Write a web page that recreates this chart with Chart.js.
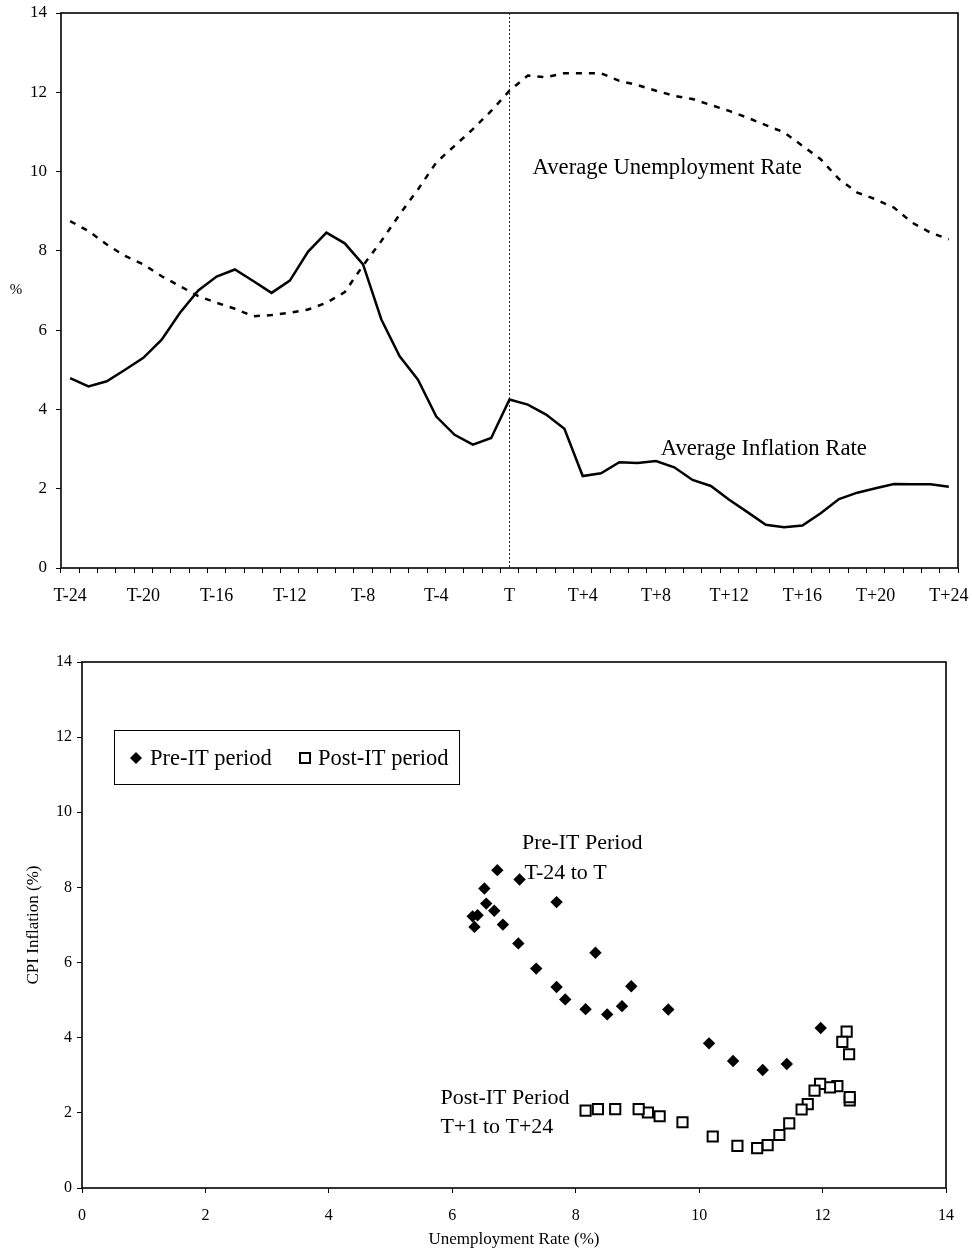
<!DOCTYPE html>
<html>
<head>
<meta charset="utf-8">
<title>Inflation and unemployment around the adoption of inflation targeting</title>
<script src="https://cdn.jsdelivr.net/npm/chart.js@4.4.1/dist/chart.umd.min.js"></script>
<style>
  html, body { margin: 0; padding: 0; background: #fff; }
  #wrap { position: relative; width: 972px; height: 1252px; }
  canvas { position: absolute; left: 0; display: block; }
  #timeChart { top: 0; width: 972px; height: 630px; }
  #scatterChart { top: 630px; width: 972px; height: 622px; }
</style>
</head>
<body>
<div id="wrap">
  <canvas id="timeChart" width="972" height="630"></canvas>
  <canvas id="scatterChart" width="972" height="622"></canvas>
</div>
<script>
'use strict';

// ---- Top panel: months around adoption (T) ----
const periods = [
	'T-24', 'T-23', 'T-22', 'T-21', 'T-20', 'T-19', 'T-18', 'T-17', 'T-16', 'T-15',
	'T-14', 'T-13', 'T-12', 'T-11', 'T-10', 'T-9', 'T-8', 'T-7', 'T-6', 'T-5',
	'T-4', 'T-3', 'T-2', 'T-1', 'T',
	'T+1', 'T+2', 'T+3', 'T+4', 'T+5', 'T+6', 'T+7', 'T+8', 'T+9', 'T+10',
	'T+11', 'T+12', 'T+13', 'T+14', 'T+15', 'T+16', 'T+17', 'T+18', 'T+19', 'T+20',
	'T+21', 'T+22', 'T+23', 'T+24'
];

const avgInflation = [
	4.79, 4.58, 4.71, 5.00, 5.30, 5.76, 6.44, 7.00, 7.35, 7.53,
	7.24, 6.94, 7.25, 7.98, 8.46, 8.19, 7.66, 6.27, 5.34, 4.75,
	3.82, 3.36, 3.11, 3.28, 4.25,
	4.12, 3.87, 3.51, 2.32, 2.39, 2.67, 2.65, 2.70, 2.54, 2.22,
	2.07, 1.72, 1.41, 1.09, 1.03, 1.07, 1.38, 1.74, 1.90, 2.01,
	2.12, 2.11, 2.11, 2.05
];

const avgUnemployment = [
	8.75, 8.50, 8.16, 7.87, 7.66, 7.36, 7.11, 6.86, 6.69, 6.54,
	6.35, 6.38, 6.44, 6.52, 6.69, 6.96, 7.63, 8.25, 8.92, 9.55,
	10.23, 10.65, 11.07, 11.53, 12.04,
	12.42, 12.38, 12.48, 12.48, 12.48, 12.29, 12.18, 12.04, 11.91, 11.83,
	11.68, 11.53, 11.36, 11.17, 10.99, 10.65, 10.31, 9.81, 9.47, 9.30,
	9.09, 8.71, 8.46, 8.29
];

const percentTicks = [0, 2, 4, 6, 8, 10, 12, 14];

// ---- Bottom panel: unemployment vs CPI inflation ----
const preUnemployment = [
	8.75, 8.51, 8.16, 7.83, 7.69, 7.36, 7.07, 6.82, 6.68, 6.55,
	6.33, 6.36, 6.41, 6.52, 6.73, 7.09, 7.69, 8.32, 8.90, 9.50,
	10.16, 10.55, 11.03, 11.42, 11.97
];
const preInflation = [
	4.84, 4.62, 4.76, 5.02, 5.35, 5.84, 6.51, 7.01, 7.38, 7.57,
	7.23, 6.95, 7.26, 7.97, 8.46, 8.21, 7.61, 6.26, 5.37, 4.75,
	3.85, 3.38, 3.14, 3.30, 4.26
];
const postUnemployment = [
	12.39, 12.32, 12.43, 12.44, 12.44, 12.24, 12.12, 11.96, 11.87, 11.76,
	11.66, 11.46, 11.30, 11.11, 10.94, 10.62, 10.22, 9.73, 9.36, 9.17,
	9.02, 8.64, 8.36, 8.16
];
const postInflation = [
	4.16, 3.89, 3.56, 2.33, 2.42, 2.71, 2.68, 2.77, 2.59, 2.23,
	2.09, 1.72, 1.41, 1.14, 1.06, 1.12, 1.37, 1.75, 1.91, 2.01,
	2.10, 2.10, 2.10, 2.06
];

const SERIF = '"Liberation Serif", "Times New Roman", serif';

Chart.defaults.color = '#000';
Chart.defaults.font.family = SERIF;

/**
 * Pair two value lists into scatter points
 */
function toPoints(xs, ys) {
	return xs.map(function(x, i) {
		return { x: x, y: ys[i] };
	});
}

/**
 * Pin an axis to a fixed thickness and drop label overflow padding,
 * so the plot area sits exactly where the layout padding puts it
 */
function fixAxis(prop, size) {
	return function(scale) {
		scale[prop] = size;
		scale.paddingTop = 0;
		scale.paddingBottom = 0;
		scale.paddingLeft = 0;
		scale.paddingRight = 0;
	};
}

/**
 * Outline round the plot area
 */
const frame = {
	id: 'frame',
	afterDraw: function(chart) {
		const a = chart.chartArea;
		const ctx = chart.ctx;
		ctx.save();
		ctx.strokeStyle = '#000';
		ctx.lineWidth = 1.6;
		ctx.strokeRect(a.left, a.top, a.right - a.left, a.bottom - a.top);
		ctx.restore();
	}
};

/**
 * Draw a text note at a data position
 */
function note(chart, text, xv, yv, size) {
	const ctx = chart.ctx;
	ctx.save();
	ctx.fillStyle = '#000';
	ctx.font = size + 'px ' + SERIF;
	ctx.textAlign = 'left';
	ctx.textBaseline = 'middle';
	ctx.fillText(text, chart.scales.x.getPixelForValue(xv), chart.scales.y.getPixelForValue(yv));
	ctx.restore();
}

// Dotted line at T, series names and the % sign
const timeNotes = {
	id: 'timeNotes',
	beforeDatasetsDraw: function(chart) {
		const a = chart.chartArea;
		const x = chart.scales.x.getPixelForValue(periods.indexOf('T'));
		const ctx = chart.ctx;
		ctx.save();
		ctx.strokeStyle = '#222';
		ctx.lineWidth = 1;
		ctx.setLineDash([2, 2]);
		ctx.beginPath();
		ctx.moveTo(x, a.top);
		ctx.lineTo(x, a.bottom);
		ctx.stroke();
		ctx.restore();
	},
	afterDraw: function(chart) {
		note(chart, 'Average Unemployment Rate', 25.26, 10.1, 22.7);
		note(chart, 'Average Inflation Rate', 32.26, 3.0, 22.7);

		const ctx = chart.ctx;
		ctx.save();
		ctx.font = '15px ' + SERIF;
		ctx.textAlign = 'center';
		ctx.textBaseline = 'middle';
		ctx.fillText('%', 16, chart.scales.y.getPixelForValue(7));
		ctx.restore();
	}
};

// Boxed legend and period notes
const scatterNotes = {
	id: 'scatterNotes',
	afterDraw: function(chart) {
		const ctx = chart.ctx;
		const sets = chart.data.datasets;

		note(chart, 'Pre-IT Period', 7.13, 9.18, 22);
		note(chart, 'T-24 to T', 7.17, 8.38, 22);
		note(chart, 'Post-IT Period', 5.81, 2.38, 22);
		note(chart, 'T+1 to T+24', 5.81, 1.62, 22);

		ctx.save();
		ctx.strokeStyle = '#000';
		ctx.lineWidth = 1;
		ctx.strokeRect(114.5, 100.5, 345, 54);

		// diamond
		ctx.fillStyle = '#000';
		ctx.beginPath();
		ctx.moveTo(130, 128);
		ctx.lineTo(136, 122);
		ctx.lineTo(142, 128);
		ctx.lineTo(136, 134);
		ctx.closePath();
		ctx.fill();

		// hollow square
		ctx.lineWidth = 2;
		ctx.strokeRect(300, 123, 10, 10);

		ctx.font = '22.5px ' + SERIF;
		ctx.textBaseline = 'middle';
		ctx.textAlign = 'left';
		ctx.fillText(sets[0].label, 150, 129);
		ctx.fillText(sets[1].label, 318, 129);
		ctx.restore();
	}
};

// ---- Top: average inflation and unemployment ----
new Chart(document.getElementById('timeChart'), {
	type: 'line',
	data: {
		labels: periods,
		datasets: [{
			label: 'Average Inflation Rate',
			data: avgInflation,
			borderColor: '#000',
			borderWidth: 2.5,
			pointRadius: 0,
			tension: 0,
			fill: false
		}, {
			label: 'Average Unemployment Rate',
			data: avgUnemployment,
			borderColor: '#000',
			borderWidth: 2.5,
			borderDash: [6, 7],
			pointRadius: 0,
			tension: 0,
			fill: false
		}]
	},
	options: {
		responsive: false,
		animation: false,
		devicePixelRatio: 1,
		layout: { padding: { top: 13, right: 14, bottom: 0, left: 0 } },
		plugins: {
			legend: { display: false },
			tooltip: { enabled: false }
		},
		scales: {
			x: {
				type: 'category',
				offset: true,
				border: { display: false },
				grid: { offset: true, drawOnChartArea: false, tickLength: 5, tickColor: '#000', tickWidth: 1 },
				ticks: {
					autoSkip: false,
					maxRotation: 0,
					minRotation: 0,
					padding: 12,
					font: { size: 18 },
					callback: function(value, index) {
						return index % 4 === 0 ? this.getLabelForValue(value) : '';
					}
				},
				afterFit: fixAxis('height', 62)
			},
			y: {
				min: 0,
				max: 14,
				border: { display: false },
				grid: { drawOnChartArea: false, tickLength: 5, tickColor: '#000', tickWidth: 1 },
				ticks: { stepSize: 2, padding: 9, font: { size: 17 } },
				afterBuildTicks: function(scale) {
					scale.ticks = percentTicks.map(function(v) { return { value: v }; });
				},
				afterFit: fixAxis('width', 61)
			}
		}
	},
	plugins: [frame, timeNotes]
});

// ---- Bottom: unemployment against CPI inflation ----
new Chart(document.getElementById('scatterChart'), {
	type: 'scatter',
	data: {
		datasets: [{
			label: 'Pre-IT period',
			data: toPoints(preUnemployment, preInflation),
			pointStyle: 'rectRot',
			pointRadius: 6.2,
			backgroundColor: '#000',
			borderColor: '#000',
			borderWidth: 0
		}, {
			label: 'Post-IT period',
			data: toPoints(postUnemployment, postInflation),
			pointStyle: 'rect',
			pointRadius: 7.2,
			backgroundColor: '#fff',
			borderColor: '#000',
			borderWidth: 2
		}]
	},
	options: {
		responsive: false,
		animation: false,
		devicePixelRatio: 1,
		layout: { padding: { top: 32, right: 26, bottom: 0, left: 0 } },
		plugins: {
			legend: { display: false },
			tooltip: { enabled: false }
		},
		scales: {
			x: {
				type: 'linear',
				min: 0,
				max: 14,
				border: { display: false },
				grid: { drawOnChartArea: false, tickLength: 5, tickColor: '#000', tickWidth: 1 },
				ticks: { stepSize: 2, padding: 13, font: { size: 16 } },
				title: {
					display: true,
					text: 'Unemployment Rate (%)',
					font: { size: 17 },
					padding: { top: 0, bottom: 2 }
				},
				afterFit: fixAxis('height', 64)
			},
			y: {
				type: 'linear',
				min: 0,
				max: 14,
				border: { display: false },
				grid: { drawOnChartArea: false, tickLength: 5, tickColor: '#000', tickWidth: 1 },
				ticks: { stepSize: 2, padding: 5, font: { size: 16 } },
				title: {
					display: true,
					text: 'CPI Inflation (%)',
					font: { size: 17 },
					padding: { top: 23, bottom: 0 }
				},
				afterFit: fixAxis('width', 82)
			}
		}
	},
	plugins: [frame, scatterNotes]
});
</script>
</body>
</html>
